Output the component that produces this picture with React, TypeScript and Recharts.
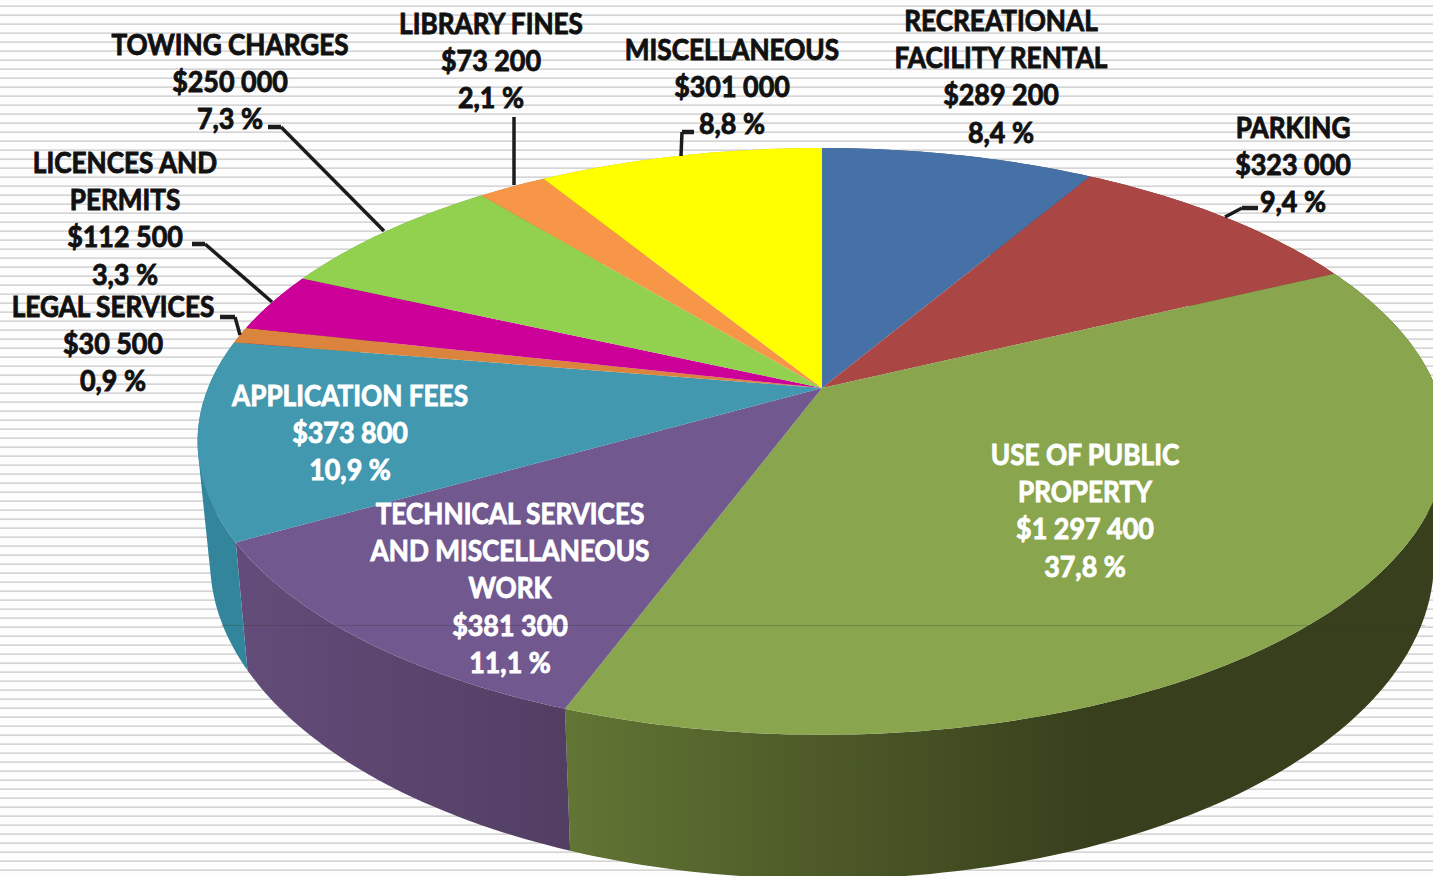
import { Pie, PieChart } from "recharts";

// slices run clockwise from 12 o'clock
const categoryLines = [
  ["RECREATIONAL", "FACILITY RENTAL"],
  ["PARKING"],
  ["USE OF PUBLIC", "PROPERTY"],
  ["TECHNICAL SERVICES", "AND MISCELLANEOUS", "WORK"],
  ["APPLICATION FEES"],
  ["LEGAL SERVICES"],
  ["LICENCES AND", "PERMITS"],
  ["TOWING CHARGES"],
  ["LIBRARY FINES"],
  ["MISCELLANEOUS"],
];
const revenue = [289200, 323000, 1297400, 381300, 373800, 30500, 112500, 250000, 73200, 301000];
const amountLabels = ["$289 200", "$323 000", "$1 297 400", "$381 300", "$373 800", "$30 500", "$112 500", "$250 000", "$73 200", "$301 000"];
const percentLabels = ["8,4 %", "9,4 %", "37,8 %", "11,1 %", "10,9 %", "0,9 %", "3,3 %", "7,3 %", "2,1 %", "8,8 %"];
const topColors = ["#4571a7", "#aa4643", "#89a54e", "#71588f", "#4198af", "#db843d", "#cc0099", "#92d050", "#f79646", "#ffff00"];
const wallFills = ["#35567f", "#7f3432", "url(#wallGreen)", "url(#wallPurple)", "#33859c", "#a86430", "#990073", "#6f9e3c", "#bb7035", "#bfbf00"];

// text centre x, centre y of first line, colour
const labelLayout: [number, number, string][] = [
  [1001, 21, "#111"],
  [1293, 128, "#111"],
  [1085, 455, "#fff"],
  [510, 514, "#fff"],
  [350, 396, "#fff"],
  [113, 307, "#111"],
  [125, 163, "#111"],
  [230, 45, "#111"],
  [491, 24, "#111"],
  [732, 50, "#111"],
];
const leaderLines: (string | null)[] = [
  null,
  "M1242 208 L1225 217",
  null,
  null,
  null,
  "M235 317 L240 335",
  "M205 244 L272 302",
  "M281 127 L384 231",
  "M514 117 L514 185",
  "M682 132 L681 156",
];
const leaderStubs: (string | null)[] = [
  null,
  "M1258 208 L1242 208",
  null,
  null,
  null,
  "M220 317 L235 317",
  "M192 244 L205 244",
  "M268 127 L281 127",
  null,
  "M694 132 L682 132",
];

const data = revenue.map((value, i) => ({ name: categoryLines[i].join(" "), value }));

const TILT = 0.462; // vertical squash of the disc
const PERSPECTIVE = 0.182; // far edge is smaller than near edge
const BOTTOM_X = 0.98; // lower rim sits a bit further from the viewer
const BOTTOM_Y = 1.084;
const DEPTH = 115;

function project(cx: number, cy: number, r: number, angle: number, lower = false) {
  const t = ((90 - angle) * Math.PI) / 180;
  const k = 1 + PERSPECTIVE * Math.cos(t);
  const dx = (r * Math.sin(t)) / k;
  const dy = (-r * TILT * Math.cos(t)) / k;
  if (!lower) return [cx + dx, cy + dy];
  return [cx + dx * BOTTOM_X, cy + DEPTH + dy * BOTTOM_Y];
}

function rim(cx: number, cy: number, r: number, from: number, to: number) {
  const steps = Math.max(2, Math.ceil(Math.abs(from - to)));
  const pts: string[] = [];
  for (let i = 0; i <= steps; i++) {
    const p = project(cx, cy, r, from + ((to - from) * i) / steps);
    pts.push(`${p[0].toFixed(1)} ${p[1].toFixed(1)}`);
  }
  return pts.join(" L");
}

function TopSlice(props: any) {
  const { cx, cy, outerRadius, startAngle, endAngle, index } = props;
  return <path d={`M${cx} ${cy} L${rim(cx, cy, outerRadius, startAngle, endAngle)} Z`} fill={topColors[index]} />;
}

// the wall is a strip of small quads, all wound the same way, so the silhouette
// between the two rims gets filled as well
function WallSlice(props: any) {
  const { cx, cy, outerRadius, startAngle, endAngle, index } = props;
  const steps = Math.max(2, Math.ceil(Math.abs(startAngle - endAngle)));
  let d = "";
  for (let i = 0; i < steps; i++) {
    const a0 = startAngle + ((endAngle - startAngle) * i) / steps;
    const a1 = startAngle + ((endAngle - startAngle) * (i + 1)) / steps;
    const q = [
      project(cx, cy, outerRadius, a0),
      project(cx, cy, outerRadius, a1),
      project(cx, cy, outerRadius, a1, true),
      project(cx, cy, outerRadius, a0, true),
    ];
    let area = 0;
    q.forEach((p, j) => {
      const n = q[(j + 1) % 4];
      area += p[0] * n[1] - n[0] * p[1];
    });
    if (area < 0) q.reverse();
    d += `M${q.map((p) => `${p[0].toFixed(1)} ${p[1].toFixed(1)}`).join(" L")} Z `;
  }
  return <path d={d} fill={wallFills[index]} />;
}

function SliceLabel(props: any) {
  const { index } = props;
  const [x, y, color] = labelLayout[index];
  const names = categoryLines[index];
  const lines = [...names, amountLabels[index], percentLabels[index]];
  return (
    <g>
      {lines.map((line, i) => (
        <text
          key={i}
          transform={`translate(${x} ${y + i * 37.2}) scale(${i < names.length ? 0.935 : 0.96} 1)`}
          dy="0.36em"
          textAnchor="middle"
          fill={color}
          fontFamily="Lato"
          fontWeight={700}
          fontSize={28}
          stroke={color}
          strokeWidth={0.9}
        >
          {line}
        </text>
      ))}
    </g>
  );
}

function SliceLeader(props: any) {
  const d = leaderLines[props.index];
  const stub = leaderStubs[props.index];
  if (!d) return <g />;
  return (
    <g fill="none" stroke="#1c1c1c">
      <path d={d} strokeWidth={3.5} />
      {stub ? <path d={stub} strokeWidth={4.5} /> : null}
    </g>
  );
}

export default function App() {
  return (
    <div
      style={{
        position: "absolute",
        left: 0,
        top: 0,
        width: 1433,
        height: 876,
        overflow: "hidden",
        background: "repeating-linear-gradient(180deg,#fdfdfd 0 5px,#e2e2e2 5px 6px,#d6d6d6 6px 7px,#fdfdfd 7px 9px)",
      }}
    >
      <PieChart width={1433} height={876} margin={{ top: 0, right: 0, bottom: 0, left: 0 }}>
        <defs>
          <linearGradient id="wallGreen" gradientUnits="userSpaceOnUse" x1={570} y1={0} x2={1100} y2={0}>
            <stop offset="0" stopColor="#617534" />
            <stop offset="0.45" stopColor="#4e5b28" />
            <stop offset="1" stopColor="#373f1c" />
          </linearGradient>
          <linearGradient id="wallPurple" gradientUnits="userSpaceOnUse" x1={245} y1={0} x2={570} y2={0}>
            <stop offset="0" stopColor="#634c79" />
            <stop offset="1" stopColor="#523e63" />
          </linearGradient>
        </defs>
        <Pie
          data={data}
          dataKey="value"
          cx={822}
          cy={388}
          outerRadius={614}
          startAngle={90}
          endAngle={-270}
          stroke="none"
          shape={WallSlice}
          isAnimationActive={false}
        />
        <Pie
          data={data}
          dataKey="value"
          cx={822}
          cy={388}
          outerRadius={614}
          startAngle={90}
          endAngle={-270}
          stroke="none"
          shape={TopSlice}
          label={SliceLabel}
          labelLine={SliceLeader}
          isAnimationActive={false}
        />
      </PieChart>
      <div style={{ position: "absolute", left: 221, top: 625, width: 1204, height: 1, background: "rgba(50,50,50,0.28)" }} />
    </div>
  );
}
